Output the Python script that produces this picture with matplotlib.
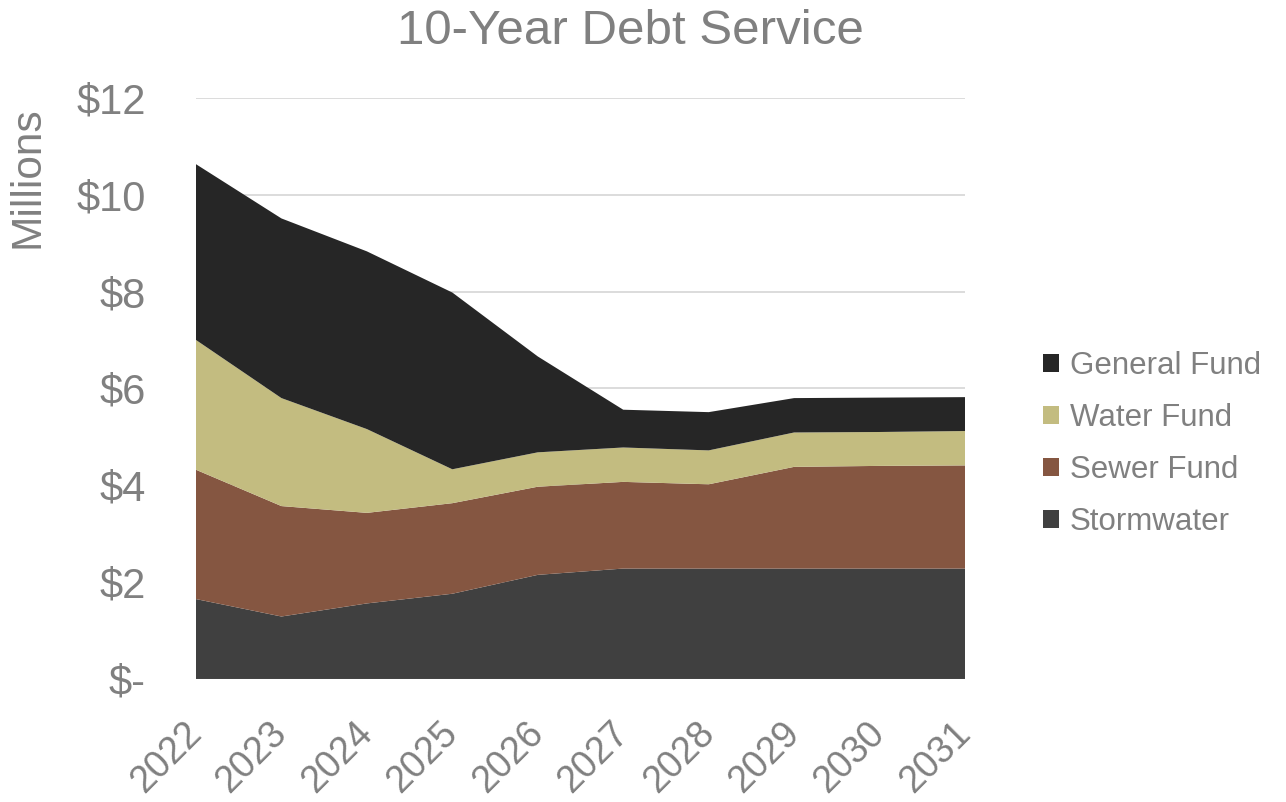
import numpy as np
import matplotlib
matplotlib.use("Agg")
import matplotlib.pyplot as plt
from matplotlib.patches import Patch
from matplotlib.ticker import FuncFormatter

plt.rcParams['font.family'] = ['Liberation Sans', 'DejaVu Sans']

years = [2022, 2023, 2024, 2025, 2026, 2027, 2028, 2029, 2030, 2031]

# annual debt service by fund, $ millions
stormwater = [1.65, 1.29, 1.56, 1.76, 2.15, 2.28, 2.28, 2.28, 2.28, 2.28]
sewer_fund = [2.67, 2.28, 1.87, 1.87, 1.82, 1.79, 1.74, 2.10, 2.12, 2.13]
water_fund = [2.68, 2.23, 1.73, 0.70, 0.71, 0.71, 0.70, 0.71, 0.70, 0.71]
general_fund = [3.63, 3.71, 3.67, 3.65, 1.98, 0.78, 0.79, 0.71, 0.71, 0.70]

labels = ["Stormwater", "Sewer Fund", "Water Fund", "General Fund"]
colors = ["#404040", "#855641", "#C3BC80", "#262626"]
grey = "#808080"

fig = plt.figure(figsize=(12.86, 8.02), dpi=100)
ax = fig.add_axes([0.1524, 0.1534, 0.598, 0.7246])

ax.stackplot(years, stormwater, sewer_fund, water_fund, general_fund,
             colors=colors, labels=labels, linewidth=0, zorder=2)

ax.set_xlim(years[0], years[-1])
ax.set_ylim(0, 12)
ax.set_yticks(np.arange(0, 13, 2))
ax.yaxis.set_major_formatter(FuncFormatter(lambda v, p: "$-" if v == 0 else f"${v:.0f}"))
ax.set_xticks(years)
ax.set_xticklabels([str(y) for y in years], rotation=45, ha="right", va="center",
                   rotation_mode="anchor")

ax.grid(axis="y", color="#D9D9D9", linewidth=1.3, zorder=0)
ax.set_axisbelow(True)
for s in ax.spines.values():
    s.set_visible(False)
ax.tick_params(axis="both", length=0, labelcolor=grey)
ax.tick_params(axis="y", pad=36, labelsize=30)
ax.tick_params(axis="x", pad=35, labelsize=27)

ax.set_ylabel("Millions", fontsize=30.5, color=grey)
ax.yaxis.set_label_coords(-0.1925, 0.864)

fig.text(0.49, 0.961, "10-Year Debt Service", fontsize=35.5, color=grey,
         ha="center", va="center")

handles = [Patch(facecolor=c, edgecolor="none") for c in colors[::-1]]
fig.legend(handles, labels[::-1], loc="center left", bbox_to_anchor=(0.811, 0.446),
           frameon=False, fontsize=22.5, labelcolor=grey, handlelength=0.5,
           handleheight=0.5, handletextpad=0.35, labelspacing=0.7, borderpad=0,
           borderaxespad=0)

fig.savefig("out.png", dpi=100)
